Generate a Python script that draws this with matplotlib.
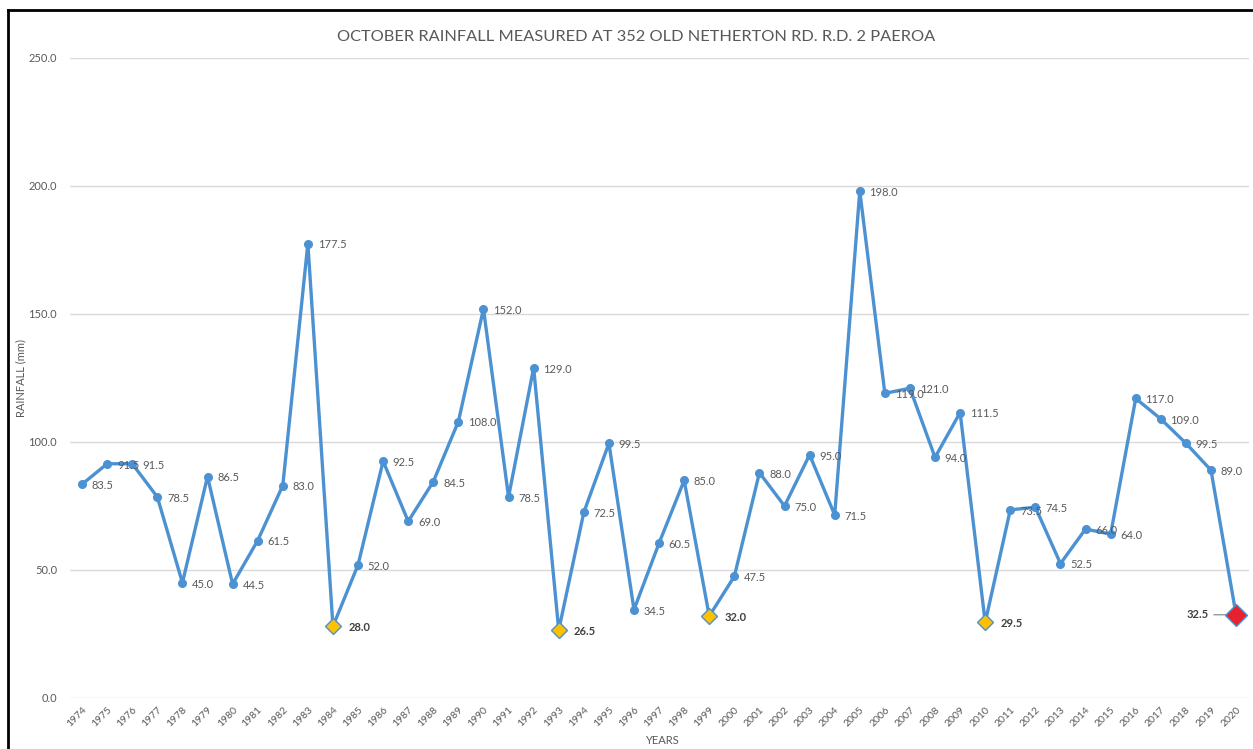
import matplotlib.pyplot as plt
from matplotlib.lines import Line2D

years = list(range(1974, 2021))
rainfall = [83.5, 91.5, 91.5, 78.5, 45.0, 86.5, 44.5, 61.5, 83.0, 177.5,
            28.0, 52.0, 92.5, 69.0, 84.5, 108.0, 152.0, 78.5, 129.0, 26.5,
            72.5, 99.5, 34.5, 60.5, 85.0, 32.0, 47.5, 88.0, 75.0, 95.0,
            71.5, 198.0, 119.0, 121.0, 94.0, 111.5, 29.5, 73.5, 74.5, 52.5,
            66.0, 64.0, 117.0, 109.0, 99.5, 89.0, 32.5]
low_years = [1984, 1993, 1999, 2010]
latest_year = 2020
y_ticks = [0, 50, 100, 150, 200, 250]

blue = '#4C92D2'
grey = '#595959'
plt.rcParams['font.family'] = ['Lato', 'DejaVu Sans']

fig = plt.figure(figsize=(12.53, 7.49), dpi=100, facecolor='white')
ax = fig.add_axes([0.0555, 0.0681, 0.941, 0.8545])

x = list(range(len(years)))
ax.plot(x, rainfall, color=blue, lw=2.4, marker='o', ms=5.5, zorder=3)

for xi, yr, v in zip(x, years, rainfall):
    if yr in low_years:
        ax.plot(xi, v, marker='D', ms=8, color='#FFC000', mec=blue, mew=1, zorder=4)
        ax.annotate(f'{v:.1f}', (xi, v), xytext=(11, -1), textcoords='offset points',
                    ha='left', va='center', fontsize=8, fontweight='bold', color='#404040')
    elif yr == latest_year:
        ax.plot(xi, v, marker='D', ms=11, color='#E8212E', mec=blue, mew=1, zorder=4)
        ax.annotate(f'{v:.1f}', (xi, v), xytext=(-20, 0), textcoords='offset points',
                    ha='right', va='center', fontsize=8, fontweight='bold', color='#404040',
                    arrowprops=dict(arrowstyle='-', color='#7f7f7f', lw=0.8,
                                    shrinkA=2, shrinkB=5))
    else:
        ax.annotate(f'{v:.1f}', (xi, v), xytext=(7, -1), textcoords='offset points',
                    ha='left', va='center', fontsize=8, color=grey)

ax.set_xlim(-0.5, len(years) - 0.5)
ax.set_ylim(0, 250)
ax.set_yticks(y_ticks)
ax.set_yticklabels([f'{t:.1f}' for t in y_ticks], fontsize=8, color=grey)
ax.set_xticks(x)
ax.set_xticklabels([str(y) for y in years], rotation=45, ha='right', va='top',
                   rotation_mode='anchor', fontsize=7.5, color=grey)
ax.tick_params(length=0, pad=9)
ax.tick_params(axis='x', pad=5)
ax.grid(axis='y', color='#D9D9D9', lw=1)
ax.set_axisbelow(True)
for s in ax.spines.values():
    s.set_visible(False)

ax.set_ylabel('RAINFALL (mm)', fontsize=8, color=grey, va='center')
ax.yaxis.set_label_coords(-0.041, 0.5)
ax.set_xlabel('YEARS', fontsize=8, color=grey, va='center')
ax.xaxis.set_label_coords(0.502, -0.067)
fig.text(0.508, 0.951, 'OCTOBER RAINFALL MEASURED AT 352 OLD NETHERTON RD. R.D. 2 PAEROA',
         ha='center', va='center', fontsize=11.8, color=grey)

# frame left and top
bx = 8 / 1253
by = 1 - 10 / 749
fig.add_artist(Line2D([bx, bx], [0, by], color='black', lw=2, transform=fig.transFigure))
fig.add_artist(Line2D([bx, 1], [by, by], color='black', lw=2, transform=fig.transFigure))

fig.savefig('out.png', dpi=100, facecolor='white')
